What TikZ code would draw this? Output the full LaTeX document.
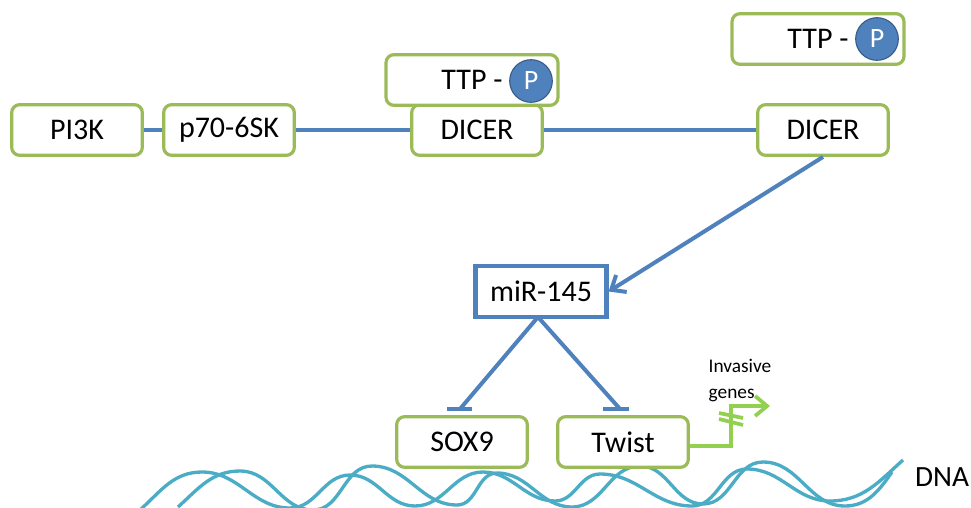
\documentclass[tikz,border=0pt]{standalone}
\usepackage{fontspec}
\setmainfont{Carlito}
\usepackage{tikz}
\usetikzlibrary{arrows.meta}
\definecolor{boxgreen}{HTML}{9BBB59}
\definecolor{linkblue}{HTML}{4F81BD}
\definecolor{dnateal}{HTML}{4BACC6}
\definecolor{genegreen}{HTML}{92D050}
\tikzset{
	protein/.style={draw=boxgreen, line width=2.4pt, rounded corners=6pt, fill=white, minimum width=98pt, minimum height=38pt, inner sep=0pt, font=\fontsize{22.5}{24}\selectfont},
	phospho/.style={circle, draw=linkblue!70!black, line width=0.8pt, fill=linkblue, text=white, minimum size=32pt, inner sep=0pt, font=\fontsize{21}{24}\selectfont},
	link/.style={draw=linkblue, line width=3pt},
	strand/.style={draw=dnateal, line width=2.5pt},
	wave/.style={out=0, in=180},
	gene/.style={draw=genegreen, line width=2.8pt},
}
\begin{document}
\begin{tikzpicture}[x=0.75pt, y=-0.75pt]
	\useasboundingbox (0, 0) rectangle (971, 507);

	\begin{scope}
		\clip (0, 0) rectangle (971, 507);
		\draw[strand] (140, 510) to[out=42, in=180] (202, 472) to[wave] (290, 508) to[wave] (350, 475) to[wave] (415, 506) to[wave] (483, 472) to[wave] (555, 501) to[wave] (600, 474) to[wave] (692, 506) to[wave] (747, 469) to[wave] (830, 501) to[out=0, in=222] (903, 460);
		\draw[strand] (178, 507) to[out=42, in=180] (240, 471) to[wave] (313, 510) to[wave] (372, 466) to[wave] (457, 505) to[wave] (497, 473) to[wave] (572, 507) to[wave] (640, 466) to[wave] (703, 504) to[wave] (763, 462) to[wave] (845, 506) to[out=0, in=235] (892, 472);
	\end{scope}

	\node[protein] (pi3k) at (77, 130) {PI3K};
	\node[protein] (p70) at (229, 130) {p70-6SK};
	\node[protein] (dicer1) at (477, 130) {DICER};
	\node[protein] (dicer2) at (823, 130) {DICER};
	\node[protein, minimum width=129pt] (ttp1) at (472, 80) {TTP -};
	\node[protein, minimum width=129pt] (ttp2) at (818, 39) {TTP -};
	\node[phospho] (p1) at (531, 81) {P};
	\node[phospho] (p2) at (877, 39) {P};
	\node[protein, draw=linkblue, rounded corners=0pt, line width=3.4pt] (mir) at (541, 291.5) {miR-145};
	\node[protein] (sox9) at (462, 442) {SOX9};
	\node[protein] (twist) at (623, 442) {Twist};
	\node[font=\fontsize{14.5}{19.5}\selectfont, align=left, inner sep=0pt] (invasive) at (740, 381) {Invasive\\genes};
	\node[font=\fontsize{22}{24}\selectfont, inner sep=0pt] (dna) at (942, 477) {DNA};

	\coordinate (mirfoot) at (538, 317);
	\coordinate (soxbar) at (460, 409);
	\coordinate (soxbarl) at (447, 409);
	\coordinate (soxbarr) at (472, 409);
	\coordinate (twistbar) at (620, 409);
	\coordinate (twistbarl) at (603, 409);
	\coordinate (twistbarr) at (629, 409);
	\coordinate (bend1) at (731, 446);
	\coordinate (bend2) at (731, 406);
	\coordinate (genetip) at (770, 406);
	\coordinate (cut1a) at (719, 413);
	\coordinate (cut1b) at (743, 418);
	\coordinate (cut2a) at (719, 419);
	\coordinate (cut2b) at (743, 425);

	\draw[link] (pi3k) -- (p70);
	\draw[link] (p70) -- (dicer1);
	\draw[link] (dicer1) -- (dicer2);
	\draw[link, -{Straight Barb[length=9pt,width=15pt]}] (dicer2.south) -- (mir.east);
	\draw[link] (mirfoot) -- (soxbar);
	\draw[link] (mirfoot) -- (twistbar);
	\draw[link, line width=3.6pt] (soxbarl) -- (soxbarr);
	\draw[link, line width=3.6pt] (twistbarl) -- (twistbarr);
	\draw[gene, -{Straight Barb[length=9pt,width=15pt]}] (twist.east |- bend1) -- (bend1) -- (bend2) -- (genetip);
	\draw[gene] (cut1a) -- (cut1b);
	\draw[gene] (cut2a) -- (cut2b);
\end{tikzpicture}
\end{document}
